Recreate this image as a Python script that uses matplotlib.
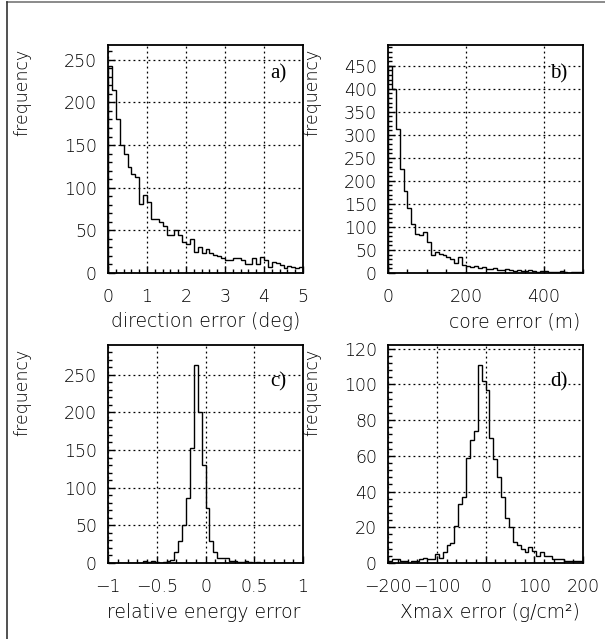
import numpy as np
import matplotlib
matplotlib.use("Agg")
import matplotlib.pyplot as plt
from matplotlib.ticker import FixedLocator, MultipleLocator, FixedFormatter
from matplotlib.lines import Line2D

# ---------------- data ----------------
dir_edges = np.linspace(0, 5, 51)
dir_counts = [243, 215, 181, 150, 140, 124, 116, 113, 81, 92,
              83, 63, 63, 60, 55, 44, 44, 50, 45, 36,
              34, 40, 25, 30, 23, 28, 23, 21, 20, 17,
              15, 15, 18, 17, 15, 11, 11, 18, 11, 19,
              15, 7, 13, 12, 9, 6, 8, 7, 6, 7]

core_edges = np.linspace(0, 500, 51)
core_counts = [450, 400, 313, 225, 177, 141, 107, 84, 82, 88,
               67, 40, 45, 42, 38, 35, 30, 22, 35, 17,
               15, 12, 15, 10, 12, 9, 8, 10, 7, 6,
               8, 7, 5, 6, 4, 5, 6, 4, 3, 4,
               5, 3, 2, 3, 4, 2, 1, 2, 3, 2]

energy_edges = np.linspace(-1, 1, 51)
energy_counts = [0, 0, 0, 0, 0, 0, 0, 0, 0, 3,
                 1, 3, 1, 0, 1, 3, 4, 15, 29, 50,
                 86, 152, 263, 200, 130, 73, 29, 15, 7, 7,
                 6, 2, 3, 1, 1, 2, 1, 0, 1, 0,
                 0, 0, 0, 0, 0, 0, 0, 0, 0, 0]

xmax_edges = np.linspace(-200, 200, 51)
xmax_counts = [1, 2, 2, 1, 1, 0, 1, 1, 2, 3,
               2, 2, 5, 3, 6, 10, 11, 21, 33, 37,
               59, 69, 74, 111, 102, 97, 70, 58, 48, 37,
               25, 20, 12, 10, 8, 6, 9, 7, 4, 6,
               4, 4, 2, 2, 2, 1, 1, 1, 1, 1]

panels = [
    dict(edges=dir_edges, counts=dir_counts, xlabel="direction error (deg)",
         xticks=[0, 1, 2, 3, 4, 5], xticklabels=["0", "1", "2", "3", "4", "5"], xminor=0.2,
         yticks=[0, 50, 100, 150, 200, 250], yminor=10, tag="a)"),
    dict(edges=core_edges, counts=core_counts, xlabel="core error (m)",
         xticks=[0, 200, 400], xticklabels=["0", "200", "400"], xminor=50,
         yticks=list(range(0, 451, 50)), yminor=10, tag="b)"),
    dict(edges=energy_edges, counts=energy_counts, xlabel="relative energy error",
         xticks=[-1, -0.5, 0, 0.5, 1], xticklabels=["\u22121", "\u22120.5", "0", "0.5", "1"], xminor=0.1,
         yticks=[0, 50, 100, 150, 200, 250], yminor=10, tag="c)"),
    dict(edges=xmax_edges, counts=xmax_counts, xlabel="Xmax error (g/cm\u00b2)",
         xticks=[-200, -100, 0, 100, 200], xticklabels=["\u2212200", "\u2212100", "0", "100", "200"], xminor=20,
         yticks=[0, 20, 40, 60, 80, 100, 120], yminor=4, tag="d)"),
]

W, H = 605, 639
plt.rcParams['font.family'] = ['DejaVu Sans']
plt.rcParams['font.weight'] = 'light'
fig = plt.figure(figsize=(W / 100, H / 100), dpi=100)

# pixel boxes: left, right, top, bottom
boxes = [(108, 303, 45, 273), (388, 583, 45, 273),
         (108, 303, 345, 563), (388, 583, 345, 563)]
ylab_x = [22, 312, 22, 312]

for p, (l, r, t, b), yx in zip(panels, boxes, ylab_x):
    ax = fig.add_axes([l / W, 1 - b / H, (r - l) / W, (b - t) / H])
    counts = np.array(p["counts"], dtype=float)
    ax.stairs(counts, p["edges"], baseline=0, color="black", linewidth=1.0)
    ax.set_xlim(p["edges"][0], p["edges"][-1])
    ax.set_ylim(0, 1.1 * counts.max())
    ax.xaxis.set_major_locator(FixedLocator(p["xticks"]))
    ax.xaxis.set_major_formatter(FixedFormatter(p["xticklabels"]))
    ax.xaxis.set_minor_locator(MultipleLocator(p["xminor"]))
    ax.yaxis.set_major_locator(FixedLocator(p["yticks"]))
    ax.yaxis.set_minor_locator(MultipleLocator(p["yminor"]))
    ax.tick_params(which="both", direction="in", top=False, right=False,
                   labelsize=12.5, width=1, color="black")
    ax.tick_params(which="major", length=5)
    ax.tick_params(which="minor", length=3)
    ax.tick_params(axis="x", pad=11)
    ax.tick_params(axis="y", pad=8)
    ax.grid(True, which="major", linestyle=(0, (1.5, 2.5)), color="black", linewidth=0.9)
    for s in ax.spines.values():
        s.set_linewidth(1.3)
    ax.text(0.83, 0.875 if t < 100 else 0.83, p["tag"], transform=ax.transAxes,
            family="Liberation Serif", fontsize=15, va="center", ha="left")
    fig.text((r - 3) / W, 1 - (b + 49) / H, p["xlabel"], ha="right", va="center", fontsize=13.5)
    fig.text(yx / W, 1 - (t + 4) / H, "frequency", rotation=90, ha="center", va="top", fontsize=12.5)

# figure frame (top and left edges)
fig.add_artist(Line2D([7 / W, 1], [1 - 2 / H, 1 - 2 / H], transform=fig.transFigure,
                      color="#777777", linewidth=1.2))
fig.add_artist(Line2D([7 / W, 7 / W], [0, 1 - 2 / H], transform=fig.transFigure,
                      color="#333333", linewidth=1.2))

fig.savefig("out.png", dpi=100)
